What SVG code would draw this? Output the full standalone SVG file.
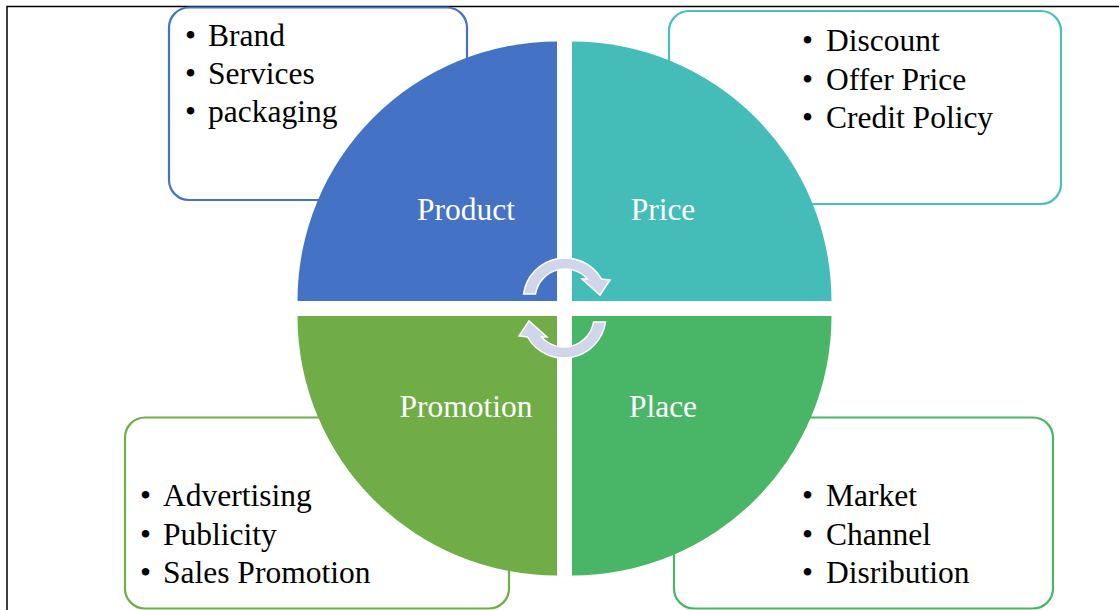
<svg xmlns="http://www.w3.org/2000/svg" width="1119" height="610" viewBox="0 0 1119 610">
<style>
.box{fill:#fff;stroke-width:2.2}
.bt{font-family:"Liberation Serif","Times New Roman",serif;font-size:31.5px;fill:#000}
.ql{font-family:"Liberation Serif","Times New Roman",serif;font-size:31.5px;fill:#fff;text-anchor:middle}
.arr{fill:#D0D5EA;stroke:#fff;stroke-width:1.5;stroke-linejoin:miter}
</style>
<rect x="0" y="0" width="1119" height="610" fill="#fff"/>
<path d="M7 610 V6.5 H1119" fill="none" stroke="#000" stroke-width="1.5"/>
<g id="box-product">
<rect class="box" x="169" y="7.5" width="298" height="192.5" rx="20" stroke="#4472C4"/>
<text class="bt" x="185" y="46">•</text><text class="bt" x="208" y="46">Brand</text>
<text class="bt" x="185" y="84">•</text><text class="bt" x="208" y="84">Services</text>
<text class="bt" x="185" y="122">•</text><text class="bt" x="208" y="122">packaging</text>
</g>
<g id="box-price">
<rect class="box" x="669" y="11" width="392" height="193" rx="20" stroke="#47C0BB"/>
<text class="bt" x="802" y="51">•</text><text class="bt" x="826" y="51">Discount</text>
<text class="bt" x="802" y="89.5">•</text><text class="bt" x="826" y="89.5">Offer Price</text>
<text class="bt" x="802" y="128">•</text><text class="bt" x="826" y="128">Credit Policy</text>
</g>
<g id="box-promotion">
<rect class="box" x="125" y="417.5" width="384" height="191" rx="20" stroke="#70AD47"/>
<text class="bt" x="140" y="506">•</text><text class="bt" x="163" y="506">Advertising</text>
<text class="bt" x="140" y="544.5">•</text><text class="bt" x="163" y="544.5">Publicity</text>
<text class="bt" x="140" y="583">•</text><text class="bt" x="163" y="583">Sales Promotion</text>
</g>
<g id="box-place">
<rect class="box" x="674" y="417.5" width="379" height="191" rx="20" stroke="#48B666"/>
<text class="bt" x="802" y="506">•</text><text class="bt" x="826" y="506">Market</text>
<text class="bt" x="802" y="544.5">•</text><text class="bt" x="826" y="544.5">Channel</text>
<text class="bt" x="802" y="583">•</text><text class="bt" x="826" y="583">Disribution</text>
</g>
<g id="q-product">
<path d="M557 301 H297.5 A259.5 259.5 0 0 1 557 41.5 Z" fill="#4472C4"/>
<text class="ql" x="466" y="220">Product</text>
</g>
<g id="q-price">
<path d="M572 301 V41.5 A259.5 259.5 0 0 1 831.5 301 Z" fill="#44BDB8"/>
<text class="ql" x="663" y="220">Price</text>
</g>
<g id="q-promotion">
<path d="M557 316 V575.5 A259.5 259.5 0 0 1 297.5 316 Z" fill="#70AD47"/>
<text class="ql" x="466" y="417">Promotion</text>
</g>
<g id="q-place">
<path d="M572 316 H831.5 A259.5 259.5 0 0 1 572 575.5 Z" fill="#48B666"/>
<text class="ql" x="663" y="417">Place</text>
</g>
<g id="connectors">
<path id="arrow-top" class="arr" d="M523.5 294 A42 42 0 0 1 601.5 279 L610 280 L600 295 L582 279 L587.5 279 A30 30 0 0 0 535.5 294 Z"/>
<path id="arrow-bottom" class="arr" transform="rotate(180 564.5 308)" d="M523.5 294 A42 42 0 0 1 601.5 279 L610 280 L600 295 L582 279 L587.5 279 A30 30 0 0 0 535.5 294 Z"/>
</g>
</svg>
